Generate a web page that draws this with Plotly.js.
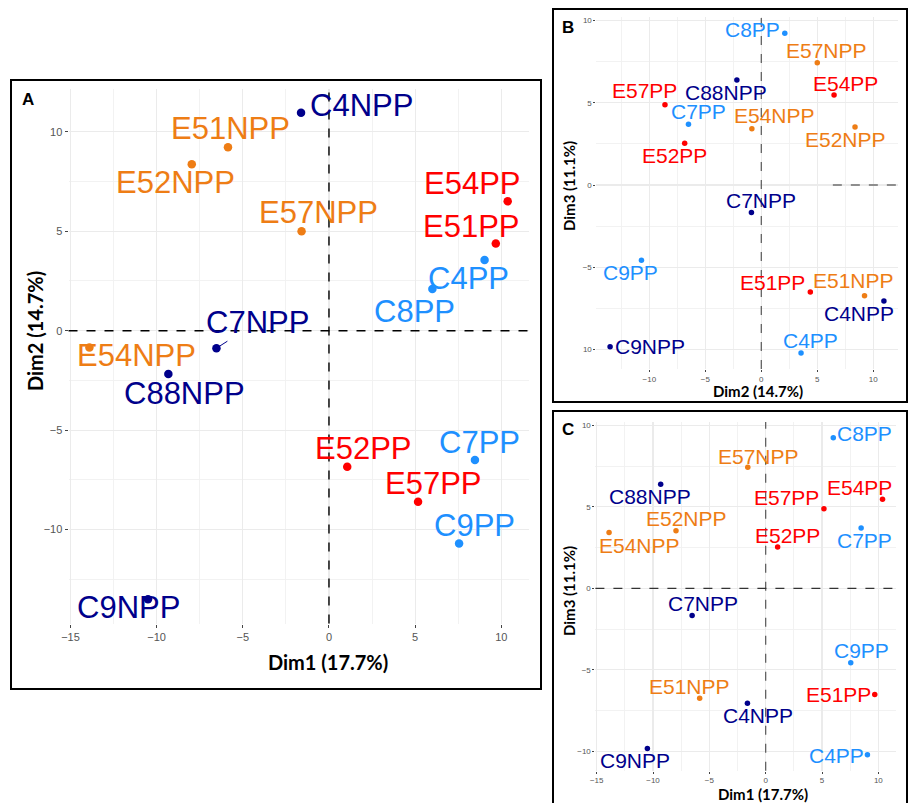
<!DOCTYPE html>
<html>
<head>
<meta charset="utf-8">
<script src="https://cdn.plot.ly/plotly-3.0.1.min.js"></script>
<style>html,body{margin:0;padding:0;background:#fff;}#chart{width:908px;height:803px;}</style>
</head>
<body>
<div id="chart"></div>
<script>
// ---- data ----
const samples = ["C4NPP","E51NPP","E52NPP","E57NPP","C7NPP","E54NPP","C88NPP","C9NPP",
                 "E52PP","E57PP","C7PP","C9PP","E54PP","E51PP","C4PP","C8PP"];
const dim1 = [-1.62,-5.86,-7.96,-1.59,-6.53,-13.90,-9.32,-10.50, 1.06, 5.17, 8.47, 7.55,10.37, 9.68, 9.03, 6.00];
const dim2 = [10.95, 9.22, 8.37, 5.00,-0.88,-0.84,-2.18,-13.50,-6.84,-8.60,-6.50,-10.70, 6.50, 4.38, 3.55, 2.10];
const dim3 = [-7.05,-6.74, 3.53, 7.43,-1.67, 3.42, 6.39,-9.83, 2.54, 4.88, 3.70,-4.57, 5.47,-6.51,-10.22, 9.23];
const dim1Title = "Dim1 (17.7%)";
const dim2Title = "Dim2 (14.7%)";
const dim3Title = "Dim3 (11.1%)";
const panelLetters = ["A","B","C"];
const tickA = [-15,-10,-5,0,5,10];
const tickAText = ["\u221215","\u221210","\u22125","0","5","10"];
const tickB = [-10,-5,0,5,10];
const tickBxText = ["\u221210","\u22125","0","5","10"];
const tickByText = ["10","\u22125","0","5","10"];
const tickCyText = ["\u221210","\u22125","0","5","10"];

// ---- styles ----
const colNavy = "#00008B", colOrange = "#EE7D15", colRed = "#FF0000", colBlue = "#1E90FF";
function colorOf(name){
  const npp = name.endsWith("NPP");
  if (name[0] === "C") return npp ? colNavy : colBlue;
  return npp ? colOrange : colRed;
}
const colors = samples.map(colorOf);

// label pixel offsets (dx right, dy down) per panel
const offA = {C4NPP:[60,-7],E51NPP:[3,-18.5],E52NPP:[-16,18],E57NPP:[16.7,-18.5],C7NPP:[40.7,-26],
  E54NPP:[46.8,8.3],C88NPP:[15.8,19],C9NPP:[-19.5,8.7],E52PP:[15.8,-18],E57PP:[15.6,-18.3],
  C7PP:[4.8,-17.5],C9PP:[15.3,-17.8],E54PP:[-35,-17.5],E51PP:[-24,-17.5],C4PP:[-16,18.6],C8PP:[-18,23]};
const offB = {C8PP:[-32.4,-3.3],E57NPP:[9.7,-12],C88NPP:[-10.5,12.2],E54PP:[11.4,-11.7],E57PP:[-20.1,-13.9],
  C7PP:[10.5,-12.2],E54NPP:[22.5,-13],E52NPP:[-9.7,12.3],E52PP:[-10.2,12.5],C7NPP:[10,-12],
  C9PP:[-10.6,12.5],E51PP:[-38.1,-9.2],E51NPP:[-11,-15.5],C4NPP:[-25.4,12.8],C9NPP:[40,-0.2],C4PP:[9.5,-12.9]};
const offC = {C8PP:[31.1,-3.9],E57NPP:[10.3,-10.4],C88NPP:[-10.5,12.1],E57PP:[-37.5,-11.5],E54PP:[-22.7,-11.8],
  C7PP:[3.8,12.5],E54NPP:[30.6,12.7],E52NPP:[10.1,-11.8],E52PP:[10.2,-11.7],C7NPP:[10.5,-12.5],
  C9PP:[10.5,-12.2],E51NPP:[-10.1,-11.5],C4NPP:[10.5,12.1],E51PP:[-36.5,0],C9NPP:[-12.8,12.2],C4PP:[-30.8,0.5]};
const segA = {C7NPP:true};
const segB = {E51NPP:true};
const segC = {};

function rng(arr){
  const mn = Math.min(...arr), mx = Math.max(...arr), s = mx - mn;
  return [mn - 0.05*s, mx + 0.05*s];
}

const labelFont = "Liberation Sans, Arial, sans-serif";
const titleFont = "Lato, Open Sans, sans-serif";

const traces = [
  {x: dim1, y: dim2, xaxis:"x", yaxis:"y", mode:"markers", type:"scatter",
   marker:{color: colors, size: 8.5}, hoverinfo:"skip"},
  {x: dim2, y: dim3, xaxis:"x2", yaxis:"y2", mode:"markers", type:"scatter",
   marker:{color: colors, size: 5.5}, hoverinfo:"skip"},
  {x: dim1, y: dim3, xaxis:"x3", yaxis:"y3", mode:"markers", type:"scatter",
   marker:{color: colors, size: 5.5}, hoverinfo:"skip"}
];

function axisBase(fs, tl){
  return {
    showgrid:true, gridcolor:"#ebebeb", gridwidth:1.1,
    minor:{tickmode:"linear", tick0:0, dtick:2.5, showgrid:true, gridcolor:"#f1f1f1", gridwidth:0.9, ticks:""},
    zeroline:false, showline:false, ticks:"outside", ticklen:tl, tickwidth:1, tickcolor:"#444",
    tickfont:{family:labelFont, size:fs, color:"#555"}, tickmode:"array", fixedrange:true
  };
}

const annotations = [];
function addLabels(xs, ys, xr, yr, offs, segs, fs){
  samples.forEach((s,i)=>{
    const o = offs[s];
    const a = {x: xs[i], y: ys[i], xref: xr, yref: yr, text: s,
      font:{family:labelFont, size: fs, color: colors[i]}, xanchor:"center", yanchor:"middle"};
    if (segs[s]) {
      a.showarrow = true; a.arrowhead = 0; a.arrowwidth = 1; a.arrowcolor = colors[i];
      a.ax = o[0]; a.ay = o[1]; a.axref = "pixel"; a.ayref = "pixel"; a.standoff = 3;
    } else {
      a.showarrow = false; a.xshift = o[0]; a.yshift = -o[1];
    }
    annotations.push(a);
  });
}
addLabels(dim1, dim2, "x", "y", offA, segA, 31);
addLabels(dim2, dim3, "x2", "y2", offB, segB, 21);
addLabels(dim1, dim3, "x3", "y3", offC, segC, 21);

function paperText(text, px, py, size, fam, angle){
  annotations.push({xref:"paper", yref:"paper", x: px/908, y: 1 - py/803, text: text, showarrow:false,
    xanchor:"center", yanchor:"middle", textangle: angle || 0,
    font:{family: fam, size: size, color:"#000"}});
}
// axis titles
paperText("<b>"+dim1Title+"</b>", 328, 661.5, 20, titleFont);
paperText("<b>"+dim2Title+"</b>", 34.5, 331.5, 20, titleFont, -90);
paperText("<b>"+dim2Title+"</b>", 758.3, 391.5, 15, titleFont);
paperText("<b>"+dim3Title+"</b>", 569, 186, 15, titleFont, -90);
paperText("<b>"+dim1Title+"</b>", 763.3, 793.5, 15, titleFont);
paperText("<b>"+dim3Title+"</b>", 569, 591, 15, titleFont, -90);
// panel letters
paperText("<b>"+panelLetters[0]+"</b>", 27.5, 99, 17, labelFont);
paperText("<b>"+panelLetters[1]+"</b>", 568, 27, 17, labelFont);
paperText("<b>"+panelLetters[2]+"</b>", 568, 429.5, 17, labelFont);

const shapes = [
  // zero lines
  {type:"line", xref:"x", yref:"y domain", x0:0, x1:0, y0:0, y1:1, line:{color:"#000", width:1.4, dash:"dash"}},
  {type:"line", xref:"x domain", yref:"y", x0:0, x1:1, y0:0, y1:0, line:{color:"#000", width:1.4, dash:"dash"}},
  {type:"line", xref:"x2", yref:"y2 domain", x0:0, x1:0, y0:0, y1:1, line:{color:"#555", width:1.2, dash:"dash"}},
  {type:"line", xref:"x2 domain", yref:"y2", x0:0.785, x1:1, y0:0, y1:0, line:{color:"#333", width:1.2, dash:"dash"}},
  {type:"line", xref:"x3", yref:"y3 domain", x0:0, x1:0, y0:0, y1:1, line:{color:"#555", width:1.2, dash:"dash"}},
  {type:"line", xref:"x3 domain", yref:"y3", x0:0, x1:1, y0:0, y1:0, line:{color:"#333", width:1.2, dash:"dash"}},
  // panel frames
  {type:"rect", xref:"paper", yref:"paper", x0:11/908, x1:541/908, y0:1-689/803, y1:1-80/803, line:{color:"#000", width:2}},
  {type:"rect", xref:"paper", yref:"paper", x0:553/908, x1:907/908, y0:1-402/803, y1:1-9/803, line:{color:"#000", width:2}},
  {type:"rect", xref:"paper", yref:"paper", x0:553/908, x1:907/908, y0:-0.01, y1:1-411/803, line:{color:"#000", width:2}}
];

const layout = {
  width:908, height:803, margin:{l:0,r:0,t:0,b:0}, paper_bgcolor:"#fff", plot_bgcolor:"#fff",
  showlegend:false,
  xaxis: Object.assign(axisBase(11, 3), {domain:[68.5/908, 528.6/908], range: rng(dim1), anchor:"y", tickvals: tickA, ticktext: tickAText}),
  yaxis: Object.assign(axisBase(11, 3), {domain:[1-623.6/803, 1-88.5/803], range: rng(dim2), anchor:"x", tickvals: tickB, ticktext: tickBxText}),
  xaxis2: Object.assign(axisBase(8, 2), {domain:[596.4/908, 897.6/908], range: rng(dim2), anchor:"y2", tickvals: tickB, ticktext: tickBxText}),
  yaxis2: Object.assign(axisBase(8, 2), {domain:[1-369.1/803, 1-17.2/803], range: rng(dim3), anchor:"x2", tickvals: tickB, ticktext: tickByText}),
  xaxis3: Object.assign(axisBase(8, 2), {domain:[595.4/908, 896.2/908], range: rng(dim1), anchor:"y3", tickvals: tickA, ticktext: tickAText}),
  yaxis3: Object.assign(axisBase(8, 2), {domain:[1-770.7/803, 1-422/803], range: rng(dim3), anchor:"x3", tickvals: tickB, ticktext: tickCyText}),
  annotations: annotations, shapes: shapes
};

Plotly.newPlot("chart", traces, layout, {staticPlot:true, displayModeBar:false});
</script>
</body>
</html>
